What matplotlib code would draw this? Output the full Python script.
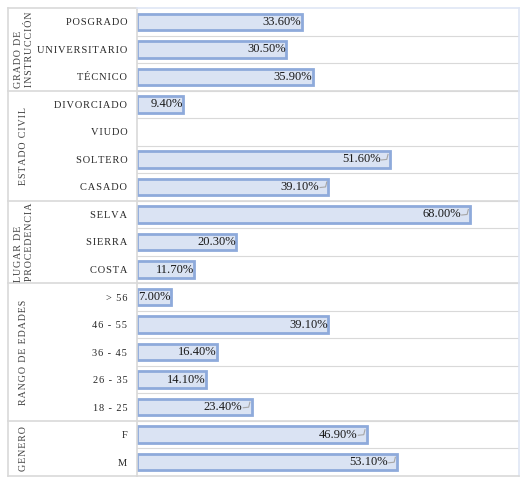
import numpy as np
import matplotlib.pyplot as plt
from matplotlib.transforms import blended_transform_factory

plt.rcParams['font.family'] = ['Liberation Serif', 'DejaVu Serif']

# rows from top to bottom
categories = ['POSGRADO', 'UNIVERSITARIO', 'TÉCNICO',
              'DIVORCIADO', 'VIUDO', 'SOLTERO', 'CASADO',
              'SELVA', 'SIERRA', 'COSTA',
              '> 56', '46 - 55', '36 - 45', '26 - 35', '18 - 25',
              'F', 'M']
values = [33.6, 30.5, 35.9,
          9.4, 0.0, 51.6, 39.1,
          68.0, 20.3, 11.7,
          7.0, 39.1, 16.4, 14.1, 23.4,
          46.9, 53.1]
leader = [False, False, False,
          False, False, True, True,
          True, False, False,
          False, False, False, False, True,
          True, True]
groups = ['GRADO DE\nINSTRUCCIÓN', 'ESTADO CIVIL', 'LUGAR DE\nPROCEDENCIA',
          'RANGO DE EDADES', 'GENERO']
group_sizes = [3, 4, 3, 5, 2]

fill = '#dae3f3'
edge = '#8eaadb'
grid = '#d9d9d9'

fig = plt.figure(figsize=(5.32, 4.84), dpi=100)
ax = fig.add_axes([137 / 532, 8 / 484, 382 / 532, 468 / 484])

y = np.arange(len(categories))
vals = np.array(values)
ax.barh(y, vals, height=0.6, color=fill, edgecolor=edge,
        linewidth=np.where(vals > 0, 2, 0))
ax.set_xlim(0, 78)
ax.set_ylim(len(categories) - 0.5, -0.5)

for yi, v, ld in zip(y, values, leader):
    if v <= 0:
        continue
    txt = f'{v:.2f}%'
    if ld:
        ax.text(v - 1.9, yi, txt, ha='right', va='center', fontsize=9, color='#1a1a1a')
        ax.plot([v - 1.7, v - 0.6, v - 0.35], [yi + 0.02, yi, yi - 0.18],
                color='#a6a6a6', lw=0.8)
    else:
        ax.text(v - 0.1, yi, txt, ha='right', va='center', fontsize=9, color='#1a1a1a')

ax.set_yticks(y)
ax.set_yticklabels(['\u200a'.join(c) for c in categories], fontsize=7.5, color='#262626')
ax.tick_params(axis='y', length=0, pad=7)
ax.set_xticks([])

# row lines
for b in np.arange(len(categories) - 1) + 0.5:
    ax.axhline(b, color=grid, lw=0.8, zorder=0)

# group separators and labels
left = -129 / 382
tr = blended_transform_factory(ax.transAxes, ax.transData)
start = 0
for g, n in zip(groups, group_sizes):
    mid = start + (n - 1) / 2
    ax.text(-0.296, mid, '\u200a'.join(g), transform=tr, rotation=90,
            ha='center', va='center', fontsize=7.2, color='#404040',
            linespacing=1.25, multialignment='left')
    start += n
    if start < len(categories):
        ax.plot([left, 1], [start - 0.5, start - 0.5], transform=tr,
                color=grid, lw=1.2, clip_on=False)

ax.plot([left, left], [-0.5, len(categories) - 0.5], transform=tr,
        color=grid, lw=1.2, clip_on=False)
ax.plot([left, 0], [-0.5, -0.5], transform=tr, color=grid, lw=1.2, clip_on=False)
ax.plot([left, 0], [len(categories) - 0.5] * 2, transform=tr,
        color=grid, lw=1.2, clip_on=False)

for s in ['left', 'bottom']:
    ax.spines[s].set_color(grid)
    ax.spines[s].set_linewidth(1.2)
for s in ['top', 'right']:
    ax.spines[s].set_color('#dfe6f5')
    ax.spines[s].set_linewidth(1.2)

fig.savefig('out.png', dpi=100)
